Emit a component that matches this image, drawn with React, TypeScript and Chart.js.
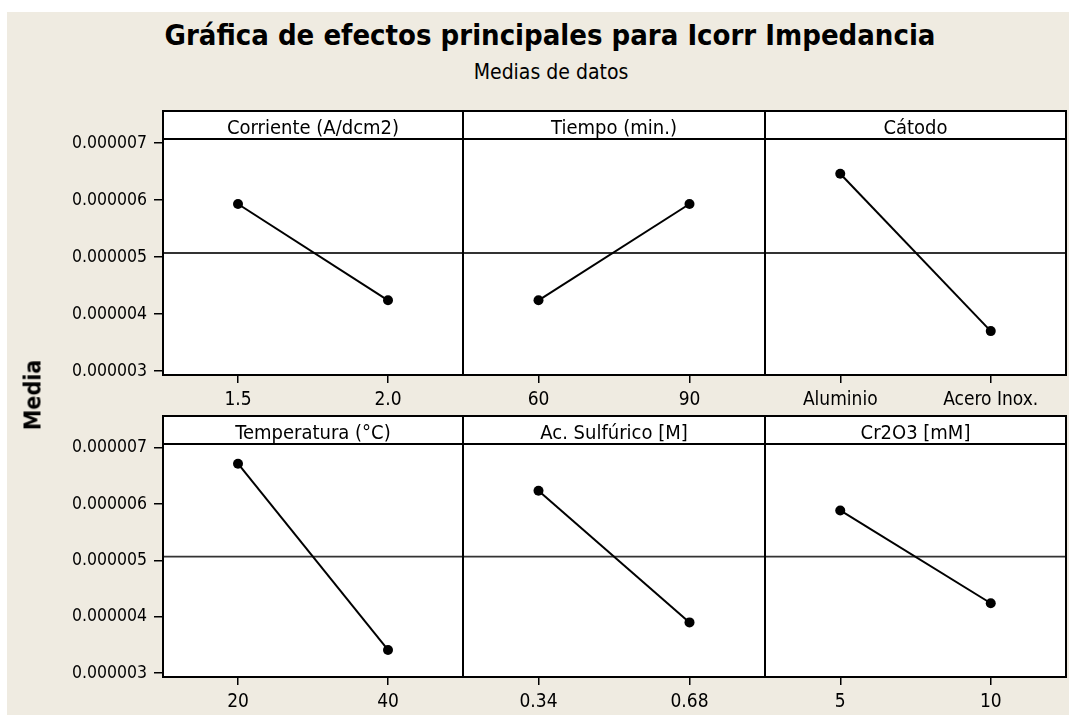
import React, { useEffect, useRef } from "react";
import { Chart, registerables } from "chart.js";

Chart.register(...registerables);

// ---------------- data ----------------
const TITLE = "Gráfica de efectos principales para Icorr Impedancia";
const SUBTITLE = "Medias de datos";
const Y_AXIS_TITLE = "Media";

const FACTOR_TITLES = [
  "Corriente (A/dcm2)",
  "Tiempo (min.)",
  "Cátodo",
  "Temperatura (°C)",
  "Ac. Sulfúrico [M]",
  "Cr2O3 [mM]",
];

const LEVELS_CORRIENTE = ["1.5", "2.0"];
const MEANS_CORRIENTE = [0.00000593, 0.00000424];

const LEVELS_TIEMPO = ["60", "90"];
const MEANS_TIEMPO = [0.00000424, 0.00000593];

const LEVELS_CATODO = ["Aluminio", "Acero Inox."];
const MEANS_CATODO = [0.00000646, 0.0000037];

const LEVELS_TEMPERATURA = ["20", "40"];
const MEANS_TEMPERATURA = [0.00000672, 0.00000341];

const LEVELS_SULFURICO = ["0.34", "0.68"];
const MEANS_SULFURICO = [0.00000624, 0.0000039];

const LEVELS_CR2O3 = ["5", "10"];
const MEANS_CR2O3 = [0.00000589, 0.00000424];

const GRAND_MEAN = 0.00000507;
const Y_TICKS = [0.000003, 0.000004, 0.000005, 0.000006, 0.000007];
const Y_MIN = 0.00000293;
const Y_MAX = 0.00000707;

// ---------------- layout / style ----------------
const FONT = "'DejaVu Sans Condensed', 'DejaVu Sans', sans-serif";
const BG = "#EFEBE1";
const COL_L = [163, 463, 765];
const COL_R = [463, 765, 1066];
const HEAD_T = [111, 416];
const PLOT_T = [139, 444];
const PLOT_B = [375, 677];
const CANVAS_B = [415, 715];
const HEAD_H = 28;

const PANELS = [
  { title: FACTOR_TITLES[0], labels: LEVELS_CORRIENTE, values: MEANS_CORRIENTE, row: 0, col: 0 },
  { title: FACTOR_TITLES[1], labels: LEVELS_TIEMPO, values: MEANS_TIEMPO, row: 0, col: 1 },
  { title: FACTOR_TITLES[2], labels: LEVELS_CATODO, values: MEANS_CATODO, row: 0, col: 2 },
  { title: FACTOR_TITLES[3], labels: LEVELS_TEMPERATURA, values: MEANS_TEMPERATURA, row: 1, col: 0 },
  { title: FACTOR_TITLES[4], labels: LEVELS_SULFURICO, values: MEANS_SULFURICO, row: 1, col: 1 },
  { title: FACTOR_TITLES[5], labels: LEVELS_CR2O3, values: MEANS_CR2O3, row: 1, col: 2 },
];

const panelFrame = {
  id: "panelFrame",
  beforeDraw(chart: any) {
    const { ctx, chartArea } = chart;
    const { left, right, top, bottom } = chartArea;
    ctx.save();
    ctx.fillStyle = "#ffffff";
    ctx.fillRect(left, top - HEAD_H, right - left, bottom - top + HEAD_H);
    ctx.restore();
  },
  beforeDatasetsDraw(chart: any) {
    const { ctx, chartArea } = chart;
    const y = chart.scales.y.getPixelForValue(GRAND_MEAN);
    ctx.save();
    ctx.strokeStyle = "#333333";
    ctx.lineWidth = 1.8;
    ctx.beginPath();
    ctx.moveTo(chartArea.left, y);
    ctx.lineTo(chartArea.right, y);
    ctx.stroke();
    ctx.restore();
  },
  afterDraw(chart: any, _args: any, opts: any) {
    const { ctx, chartArea } = chart;
    const { left, right, top, bottom } = chartArea;
    const headTop = top - HEAD_H;
    ctx.save();
    ctx.strokeStyle = "#000000";
    ctx.lineWidth = 2;
    ctx.strokeRect(left, headTop, right - left, bottom - headTop);
    ctx.beginPath();
    ctx.moveTo(left, top);
    ctx.lineTo(right, top);
    ctx.stroke();
    ctx.fillStyle = "#000000";
    ctx.font = `20px ${FONT}`;
    ctx.textAlign = "center";
    ctx.textBaseline = "alphabetic";
    ctx.fillText(opts.title || "", (left + right) / 2, headTop + 23);
    ctx.restore();
  },
};

function Panel({ p }: { p: any }) {
  const ref = useRef<HTMLCanvasElement | null>(null);
  const canvasLeft = p.col === 0 ? 20 : COL_L[p.col] - 2;
  const canvasRight = COL_R[p.col] + 2;
  const canvasTop = HEAD_T[p.row] - 2;
  const canvasBottom = CANVAS_B[p.row];
  const w = canvasRight - canvasLeft;
  const h = canvasBottom - canvasTop;

  useEffect(() => {
    if (!ref.current) return;
    const chart = new Chart(ref.current, {
      type: "line",
      data: {
        labels: p.labels,
        datasets: [
          {
            data: p.values,
            borderColor: "#000000",
            backgroundColor: "#000000",
            borderWidth: 2,
            pointRadius: 5,
            pointBackgroundColor: "#000000",
            pointBorderColor: "#000000",
            pointBorderWidth: 0,
            tension: 0,
            clip: false as any,
          },
        ],
      },
      options: {
        animation: false,
        responsive: false,
        events: [],
        layout: {
          autoPadding: false,
          padding: {
            top: PLOT_T[p.row] - canvasTop,
            left: p.col === 0 ? 0 : 2,
            right: 2,
            bottom: 0,
          },
        },
        plugins: {
          legend: { display: false },
          tooltip: { enabled: false },
          title: { display: false },
          panelFrame: { title: p.title },
        } as any,
        scales: {
          x: {
            type: "category",
            offset: true,
            afterFit: (s: any) => {
              s.height = canvasBottom - PLOT_B[p.row];
            },
            grid: {
              drawOnChartArea: false,
              drawTicks: true,
              tickLength: 8,
              color: "#000000",
              lineWidth: 1.5,
            },
            border: { display: false },
            ticks: {
              color: "#000000",
              font: { family: FONT, size: 19 },
              padding: 6,
              maxRotation: 0,
              autoSkip: false,
            },
          },
          y: {
            type: "linear",
            display: p.col === 0,
            min: Y_MIN,
            max: Y_MAX,
            afterBuildTicks: (s: any) => {
              s.ticks = Y_TICKS.map((v) => ({ value: v }));
            },
            afterFit: (s: any) => {
              if (p.col === 0) s.width = COL_L[0] - canvasLeft;
            },
            grid: {
              drawOnChartArea: false,
              drawTicks: true,
              tickLength: 9,
              color: "#000000",
              lineWidth: 1.5,
            },
            border: { display: false },
            ticks: {
              color: "#000000",
              font: { family: FONT, size: 17.5 },
              padding: 7,
              callback: (v: any) => Number(v).toFixed(6),
            },
          },
        },
      },
      plugins: [panelFrame],
    });
    return () => chart.destroy();
  }, []);

  return (
    <canvas
      ref={ref}
      width={w}
      height={h}
      style={{ position: "absolute", left: canvasLeft, top: canvasTop, width: w, height: h }}
    />
  );
}

export default function App() {
  return (
    <div
      style={{
        position: "absolute",
        left: 0,
        top: 0,
        width: 1069,
        height: 715,
        background: "#ffffff",
        overflow: "hidden",
        fontFamily: FONT,
      }}
    >
      <div style={{ position: "absolute", left: 7, top: 12, width: 1062, height: 703, background: BG }} />
      <div
        style={{
          position: "absolute",
          left: 550,
          top: 20.5,
          transform: "translateX(-50%)",
          whiteSpace: "nowrap",
          fontWeight: "bold",
          fontSize: 29,
          lineHeight: 1,
          color: "#000",
        }}
      >
        {TITLE}
      </div>
      <div
        style={{
          position: "absolute",
          left: 551,
          top: 62,
          transform: "translateX(-50%)",
          whiteSpace: "nowrap",
          fontSize: 21,
          lineHeight: 1,
          color: "#000",
        }}
      >
        {SUBTITLE}
      </div>
      {PANELS.map((p, i) => (
        <Panel key={i} p={p} />
      ))}
      <div
        style={{
          position: "absolute",
          left: 33,
          top: 395,
          transform: "translate(-50%, -50%) rotate(-90deg)",
          whiteSpace: "nowrap",
          fontWeight: "bold",
          fontSize: 23,
          lineHeight: 1,
          color: "#000",
        }}
      >
        {Y_AXIS_TITLE}
      </div>
    </div>
  );
}
